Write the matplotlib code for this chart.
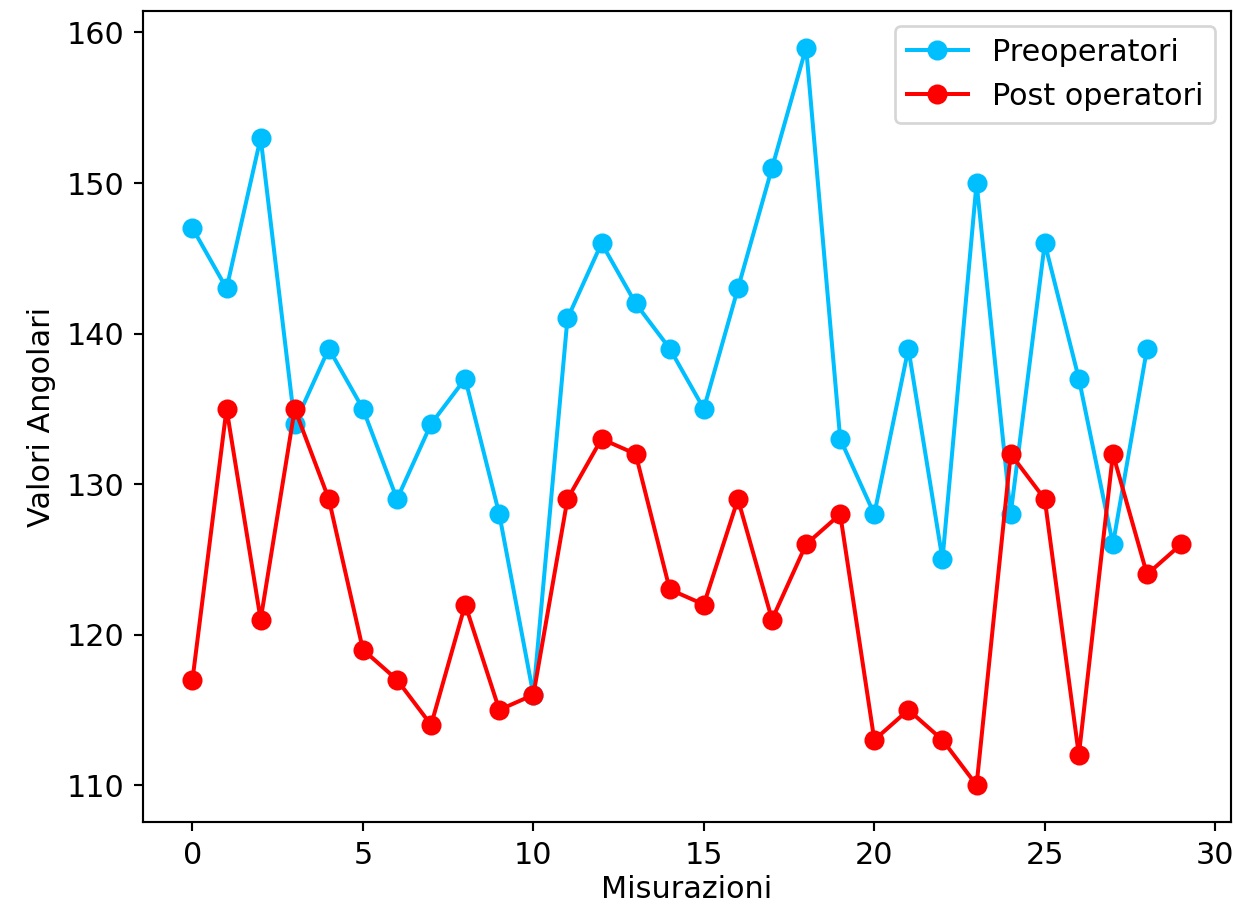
import matplotlib
matplotlib.use("Agg")
import matplotlib.pyplot as plt

# Data
pre_x = list(range(29))
pre_vals = [147, 143, 153, 134, 139, 135, 129, 134, 137, 128,
            116, 141, 146, 142, 139, 135, 143, 151, 159, 133,
            128, 139, 125, 150, 128, 146, 137, 126, 139]

post_x = list(range(30))
post_vals = [117, 135, 121, 135, 129, 119, 117, 114, 122, 115,
             116, 129, 133, 132, 123, 122, 129, 121, 126, 128,
             113, 115, 113, 110, 132, 129, 112, 132, 124, 126]

plt.rcParams['font.size'] = 11.3

fig = plt.figure(figsize=(6.4, 4.75), dpi=192.66)
ax = fig.add_axes([0.116, 0.1016, 0.882, 0.8866])

ax.plot(pre_x, pre_vals, marker='o', markersize=6.5, color='deepskyblue', label='Preoperatori')
ax.plot(post_x, post_vals, marker='o', markersize=6.5, color='red', label='Post operatori')

ax.set_xlabel('Misurazioni', labelpad=2)
ax.set_ylabel('Valori Angolari')
ax.legend(loc='upper right')

fig.savefig('out.png', dpi=192.66)
